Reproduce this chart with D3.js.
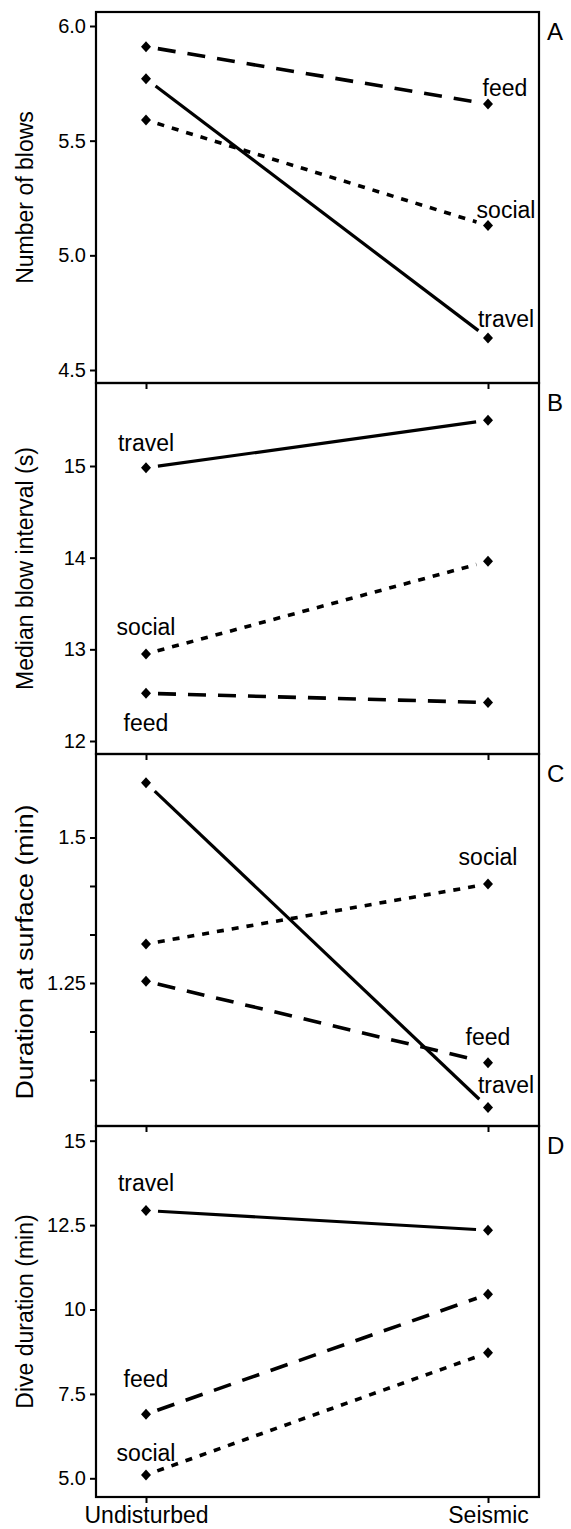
<!DOCTYPE html>
<html>
<head>
<meta charset="utf-8">
<script src="https://cdn.jsdelivr.net/npm/d3@7"></script>
<style>
  body { margin: 0; background: #fff; }
  svg text { font-family: "Liberation Sans", Arial, Helvetica, sans-serif; fill: #000; }
</style>
</head>
<body>
<svg id="viz" width="571" height="1529"></svg>
<script>
// categories
const conditions = ["Undisturbed", "Seismic"];
const behaviours = ["feed", "social", "travel"];

// series values, [Undisturbed, Seismic]
const blowsFeed = [5.91, 5.66];
const blowsSocial = [5.59, 5.13];
const blowsTravel = [5.77, 4.64];

const intervalFeed = [12.52, 12.42];
const intervalSocial = [12.95, 13.96];
const intervalTravel = [14.98, 15.5];

const surfaceFeed = [1.253, 1.113];
const surfaceSocial = [1.317, 1.42];
const surfaceTravel = [1.594, 1.036];

const diveFeed = [6.9, 10.45];
const diveSocial = [5.1, 8.72];
const diveTravel = [12.93, 12.35];

// tick values / labels
const ticksA = [4.5, 5.0, 5.5, 6.0];
const tickLabelsA = ["4.5", "5.0", "5.5", "6.0"];
const ticksB = [12, 13, 14, 15];
const tickLabelsB = ["12", "13", "14", "15"];
const ticksC = [1.0833, 1.1667, 1.25, 1.3333, 1.4167, 1.5];
const tickLabelsC = ["", "", "1.25", "", "", "1.5"];
const ticksD = [5, 7.5, 10, 12.5, 15];
const tickLabelsD = ["5.0", "7.5", "10", "12.5", "15"];

const titles = ["Number of blows", "Median blow interval (s)", "Duration at surface (min)", "Dive duration (min)"];
const letters = ["A", "B", "C", "D"];

// panel layout (pixel placement of each panel + where the series labels sit)
const panels = [
  { top: 12, bottom: 383, domain: [4.5, 6.0], range: [370, 26], ticks: ticksA, tickLabels: tickLabelsA,
    series: { feed: blowsFeed, social: blowsSocial, travel: blowsTravel },
    labelEnd: { feed: 1, social: 1, travel: 1 },
    labelOff: { feed: [17, -8], social: [18, -8], travel: [18, -11] } },
  { top: 383, bottom: 754, domain: [12, 15], range: [741, 466], ticks: ticksB, tickLabels: tickLabelsB,
    series: { feed: intervalFeed, social: intervalSocial, travel: intervalTravel },
    labelEnd: { feed: 0, social: 0, travel: 0 },
    labelOff: { feed: [0, 38], social: [0, -19], travel: [0, -17] } },
  { top: 754, bottom: 1126, domain: [1.25, 1.5], range: [983, 837.5], ticks: ticksC, tickLabels: tickLabelsC,
    series: { feed: surfaceFeed, social: surfaceSocial, travel: surfaceTravel },
    labelEnd: { feed: 1, social: 1, travel: 1 },
    labelOff: { feed: [0, -18], social: [0, -19], travel: [18, -15] },
    titleLen: 295, titleShift: 12 },
  { top: 1126, bottom: 1497, domain: [5, 15], range: [1478.3, 1140.7], ticks: ticksD, tickLabels: tickLabelsD,
    series: { feed: diveFeed, social: diveSocial, travel: diveTravel },
    labelEnd: { feed: 0, social: 0, travel: 0 },
    labelOff: { feed: [0, -27], social: [0, -14], travel: [0, -20] } }
];

const left = 96, right = 539;
const dashes = { feed: "18,12", social: "7,8", travel: null };
const widths = { feed: 3.6, social: 3.6, travel: 3.2 };

const svg = d3.select("#viz");
const x = d3.scalePoint().domain(conditions).range([146, 488]);

panels.forEach((p, i) => {
  const y = d3.scaleLinear().domain(p.domain).range(p.range);
  const g = svg.append("g");

  // y axis ticks
  const yAxis = d3.axisLeft(y)
    .tickValues(p.ticks)
    .tickFormat((d, k) => p.tickLabels[k])
    .tickSize(6)
    .tickPadding(4);
  const ya = g.append("g").attr("transform", `translate(${left},0)`).call(yAxis);
  ya.select(".domain").remove();
  ya.selectAll("line").attr("stroke", "#000").attr("stroke-width", 2);
  ya.selectAll("text").attr("font-size", 20).attr("font-family", "Liberation Sans, Arial, sans-serif");

  // x ticks under each panel
  const xAxis = d3.axisBottom(x).tickSize(6).tickFormat(i === 3 ? (d) => d : "");
  const xa = g.append("g").attr("transform", `translate(0,${p.bottom})`).call(xAxis);
  xa.select(".domain").remove();
  xa.selectAll("line").attr("stroke", "#000").attr("stroke-width", 2);
  xa.selectAll("text")
    .attr("font-size", 23)
    .attr("font-family", "Liberation Sans, Arial, sans-serif")
    .attr("dy", null)
    .attr("y", 26);

  // frame
  g.append("rect")
    .attr("x", left)
    .attr("y", p.top)
    .attr("width", right - left)
    .attr("height", p.bottom - p.top)
    .attr("fill", "none")
    .attr("stroke", "#000")
    .attr("stroke-width", 2.2);

  // axis title
  const cy = (p.top + p.bottom) / 2 + (p.titleShift || 0);
  const t = g.append("text")
    .attr("transform", `translate(33,${cy}) rotate(-90)`)
    .attr("text-anchor", "middle")
    .attr("font-size", 23)
    .text(titles[i]);
  if (p.titleLen) t.attr("textLength", p.titleLen).attr("lengthAdjust", "spacingAndGlyphs");

  // panel letter
  g.append("text")
    .attr("x", 547)
    .attr("y", p.top + 28)
    .attr("font-size", 24)
    .text(letters[i]);

  // series
  behaviours.forEach((b) => {
    const vals = p.series[b];
    const pts = conditions.map((c, k) => [x(c), y(vals[k])]);
    const dx = pts[1][0] - pts[0][0], dy = pts[1][1] - pts[0][1];
    const len = Math.hypot(dx, dy), gap = 12;
    const ux = dx / len, uy = dy / len;
    const seg = [
      [pts[0][0] + ux * gap, pts[0][1] + uy * gap],
      [pts[1][0] - ux * gap, pts[1][1] - uy * gap]
    ];
    g.append("path")
      .datum(seg)
      .attr("d", d3.line())
      .attr("fill", "none")
      .attr("stroke", "#000")
      .attr("stroke-width", widths[b])
      .attr("stroke-dasharray", dashes[b]);

    g.selectAll(`.pt-${b}`)
      .data(pts)
      .join("path")
      .attr("class", `pt-${b}`)
      .attr("transform", (d) => `translate(${d[0]},${d[1]})`)
      .attr("d", "M0,-5.5L5,0L0,5.5L-5,0Z")
      .attr("fill", "#000");

    const e = p.labelEnd[b];
    g.append("text")
      .attr("x", pts[e][0] + p.labelOff[b][0])
      .attr("y", pts[e][1] + p.labelOff[b][1])
      .attr("text-anchor", "middle")
      .attr("font-size", 23)
      .text(b);
  });
});
</script>
</body>
</html>
